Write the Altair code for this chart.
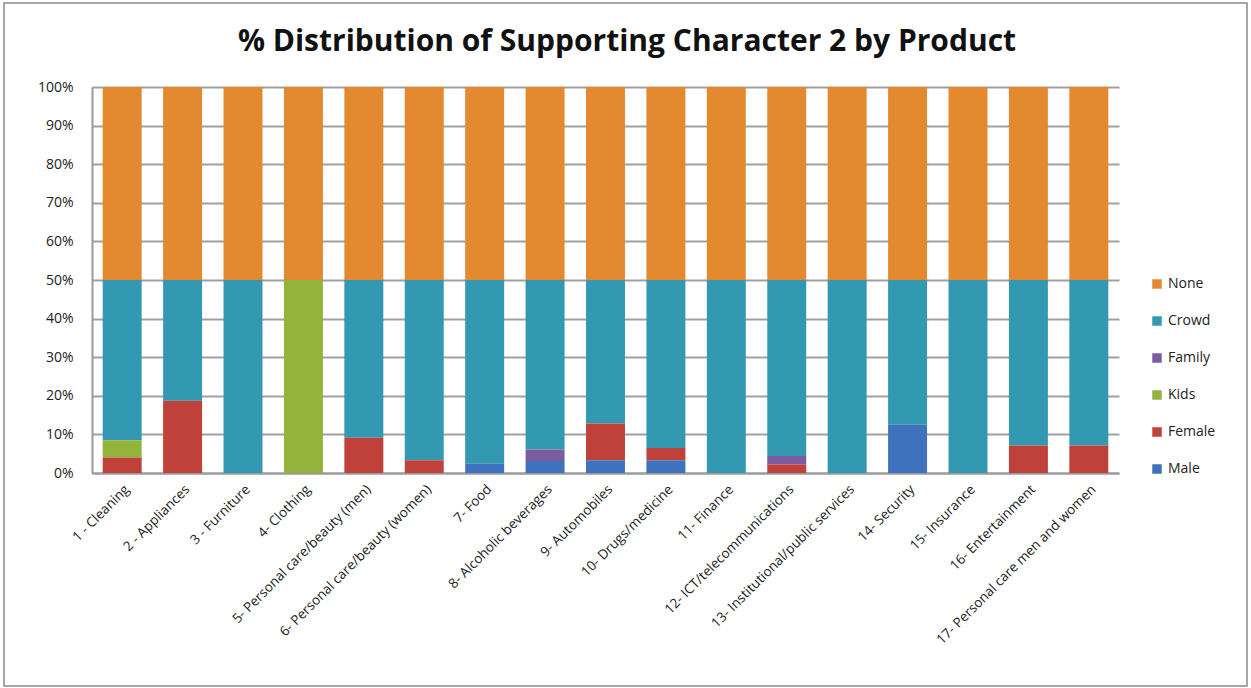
import altair as alt
import pandas as pd

products = [
    "1 - Cleaning", "2 - Appliances", "3 - Furniture", "4- Clothing",
    "5- Personal care/beauty (men)", "6- Personal care/beauty (women)", "7- Food",
    "8- Alcoholic beverages", "9- Automobiles", "10- Drugs/medicine", "11- Finance",
    "12- ICT/telecommunications", "13- Institutional/public services", "14- Security",
    "15- Insurance", "16- Entertainment", "17- Personal care men and women",
]
male   = [0, 0, 0, 0, 0, 0, 2.4, 3.1, 3.3, 3.3, 0, 0, 0, 12.5, 0, 0, 0]
female = [4.0, 18.75, 0, 0, 9.1, 3.3, 0, 0, 9.5, 3.2, 0, 2.2, 0, 0, 0, 7.1, 7.1]
kids   = [4.5, 0, 0, 50, 0, 0, 0, 0, 0, 0, 0, 0, 0, 0, 0, 0, 0]
family = [0, 0, 0, 0, 0, 0, 0, 3.0, 0, 0, 0, 2.2, 0, 0, 0, 0, 0]
none_  = [50] * 17

series_names = ["None", "Crowd", "Family", "Kids", "Female", "Male"]
colors = ["#E3892F", "#3399B3", "#7B5CA0", "#93B43A", "#C0413A", "#3F72BD"]
title_text = "% Distribution of Supporting Character 2 by Product"

rows = []
for i, p in enumerate(products):
    crowd = 100 - none_[i] - male[i] - female[i] - kids[i] - family[i]
    vals = {"Male": male[i], "Female": female[i], "Kids": kids[i],
            "Family": family[i], "Crowd": crowd, "None": none_[i]}
    for s in series_names:
        rows.append({"Product": p, "Series": s, "Value": vals[s] / 100,
                     "Order": 5 - series_names.index(s)})
df = pd.DataFrame(rows)

bars = alt.Chart(df).mark_bar().encode(
    x=alt.X("Product:N", sort=products, title=None,
            scale=alt.Scale(paddingInner=0.355, paddingOuter=0.177),
            axis=alt.Axis(labelAngle=-45, labelFont="Open Sans", labelFontSize=13.5,
                          labelColor="#222222", ticks=False, domainColor="#9A9A9A",
                          domainWidth=2, labelPadding=9, labelLimit=0)),
    y=alt.Y("Value:Q", stack="zero", title=None,
            scale=alt.Scale(domain=[0, 1]),
            axis=alt.Axis(format=".0%", values=[i / 10 for i in range(11)],
                          labelFont="Open Sans", labelFontSize=14, labelColor="#222222",
                          grid=True, gridColor="#A0A0A0", gridWidth=2,
                          domainColor="#9A9A9A", domainWidth=2,
                          ticks=False, labelPadding=19)),
    color=alt.Color("Series:N", scale=alt.Scale(domain=series_names, range=colors),
                    legend=alt.Legend(title=None, orient="none", legendX=1058, legendY=190,
                                      symbolType="square", symbolSize=90,
                                      labelFont="Open Sans", labelFontSize=14,
                                      labelColor="#222222", rowPadding=23,
                                      symbolStrokeWidth=0)),
    order=alt.Order("Order:Q", sort="ascending"),
)

border = alt.Chart(pd.DataFrame({"b": [1]})).mark_rect(
    fill=None, stroke="#8A8A8A", strokeWidth=1.5
).encode(x=alt.value(-88), x2=alt.value(1155), y=alt.value(-84), y2=alt.value(599))

title = alt.Chart(pd.DataFrame({"t": [title_text]})).mark_text(
    font="Open Sans", fontSize=30, fontWeight="bold", color="#111111",
    align="center", baseline="middle"
).encode(text="t:N", x=alt.value(535), y=alt.value(-45))

chart = alt.layer(border, bars, title).properties(
    width=1027, height=386,
    padding={"left": 92, "top": 87, "right": 132, "bottom": 215},
    autosize=alt.AutoSizeParams(type="none"),
).configure_view(stroke=None)

chart.save("out.html", embed_options={"renderer": "svg", "actions": False})
